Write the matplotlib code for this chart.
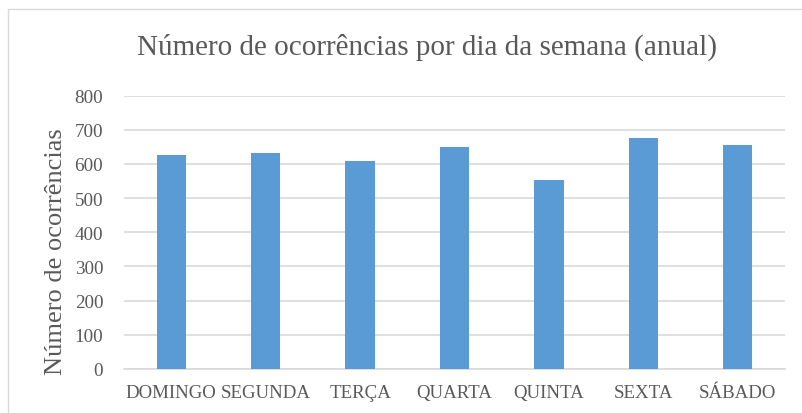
import matplotlib
matplotlib.use("Agg")
import matplotlib.pyplot as plt
from matplotlib.patches import Rectangle

categories = ["DOMINGO", "SEGUNDA", "TERÇA", "QUARTA", "QUINTA", "SEXTA", "SÁBADO"]
values = [625, 632, 608, 649, 553, 675, 654]
yticks = [0, 100, 200, 300, 400, 500, 600, 700, 800]

plt.rcParams['font.family'] = ['Liberation Serif', 'DejaVu Serif']
W, H = 802, 414
fig = plt.figure(figsize=(W/100, H/100), dpi=100)
ax = fig.add_axes([124/W, 1-370/H, (785-124)/W, (370-96.5)/H])

x = list(range(len(categories)))
ax.bar(x, values, width=0.31, color="#5b9bd5", zorder=3)
ax.set_xlim(-0.5, len(categories)-0.5)
ax.set_ylim(0, 800)
ax.set_yticks(yticks)
ax.set_xticks(x)
ax.set_xticklabels(categories, fontsize=13.6, color="#595959")
ax.set_yticklabels([str(t) for t in yticks], fontsize=13.8, color="#595959")
ax.tick_params(axis='y', length=0, pad=15)
ax.tick_params(axis='x', length=0, pad=11)
ax.grid(axis='y', color="#d9d9d9", linewidth=1.2, zorder=0)
for s in ["top", "right", "left"]:
    ax.spines[s].set_visible(False)
ax.spines["bottom"].set_color("#d9d9d9")
ax.spines["bottom"].set_linewidth(1.2)

fig.text(427/W, 1-47/H, "Número de ocorrências por dia da semana (anual)",
         ha="center", va="center", fontsize=21, color="#595959")
fig.text(56/W, 1-252/H, "Número de ocorrências", rotation=90,
         ha="center", va="center", fontsize=19, color="#595959")

fig.patches.append(Rectangle((8/W, -0.1), 1.2, 1-10/H+0.1, transform=fig.transFigure,
                             fill=False, edgecolor="#d9d9d9", linewidth=1.0))
fig.savefig("out.png", dpi=100)
